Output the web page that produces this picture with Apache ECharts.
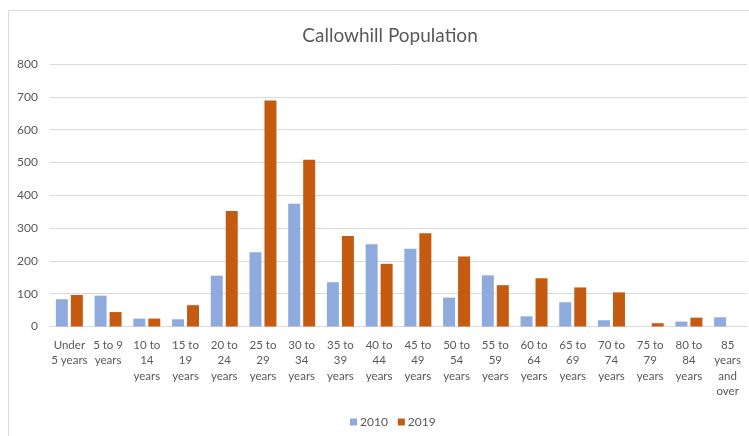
<!DOCTYPE html>
<html>
<head>
<meta charset="utf-8">
<script src="https://cdn.jsdelivr.net/npm/echarts@6/dist/echarts.min.js"></script>
<style>
  html, body { margin: 0; padding: 0; background: #fff; }
  #chart { width: 749px; height: 436px; }
</style>
</head>
<body>
<div id="chart"></div>
<script>
// Age groups (axis labels, pre-wrapped)
const ageGroups = [
  'Under\n5 years', '5 to 9\nyears', '10 to\n14\nyears', '15 to\n19\nyears',
  '20 to\n24\nyears', '25 to\n29\nyears', '30 to\n34\nyears', '35 to\n39\nyears',
  '40 to\n44\nyears', '45 to\n49\nyears', '50 to\n54\nyears', '55 to\n59\nyears',
  '60 to\n64\nyears', '65 to\n69\nyears', '70 to\n74\nyears', '75 to\n79\nyears',
  '80 to\n84\nyears', '85\nyears\nand\nover'
];

// Population counts per age group
const pop2010 = [83, 94, 24, 22, 155, 226, 374, 135, 251, 237, 88, 156, 31, 74, 19, 0, 15, 28];
const pop2019 = [96, 44, 24, 65, 352, 689, 508, 276, 191, 284, 213, 126, 147, 119, 104, 10, 27, 0];

const seriesNames = ['2010', '2019'];
const yTicks = { min: 0, max: 800, interval: 100 };

const textColor = '#595959';
const gridColor = '#d9d9d9';
const font = 'Lato, "Noto Sans", sans-serif';

const chart = echarts.init(document.getElementById('chart'), null, { renderer: 'canvas' });

chart.setOption({
  animation: false,
  backgroundColor: '#fff',
  graphic: [{
    type: 'rect',
    z: -10,
    shape: { x: 8.5, y: 10.5, width: 900, height: 600 },
    style: { fill: 'none', stroke: gridColor, lineWidth: 1 }
  }],
  title: {
    text: 'Callowhill Population',
    left: 385,
    top: 21,
    textAlign: 'center',
    textStyle: { fontFamily: font, fontSize: 19, fontWeight: 'normal', color: textColor }
  },
  legend: {
    data: seriesNames,
    left: 345,
    top: 411,
    itemWidth: 7,
    itemHeight: 7,
    itemGap: 10,
    icon: 'rect',
    textStyle: { fontFamily: font, fontSize: 12, color: textColor, padding: [0, 0, 0, -2] }
  },
  grid: { left: 50, right: 2, top: 64, bottom: 109.5, containLabel: false },
  xAxis: {
    type: 'category',
    data: ageGroups,
    axisLine: { show: true, lineStyle: { color: gridColor, width: 1 } },
    axisTick: { show: false },
    axisLabel: {
      interval: 0,
      margin: 11,
      fontFamily: font,
      fontSize: 11.5,
      lineHeight: 15.5,
      color: textColor,
      align: 'center'
    }
  },
  yAxis: {
    type: 'value',
    min: yTicks.min,
    max: yTicks.max,
    interval: yTicks.interval,
    axisLine: { show: false },
    axisTick: { show: false },
    splitLine: { lineStyle: { color: gridColor, width: 1 } },
    axisLabel: { margin: 12, fontFamily: font, fontSize: 12, color: textColor }
  },
  series: [
    {
      name: seriesNames[0],
      type: 'bar',
      data: pop2010,
      barWidth: 12,
      barGap: '25%',
      itemStyle: { color: '#8faadc' }
    },
    {
      name: seriesNames[1],
      type: 'bar',
      data: pop2019,
      barWidth: 12,
      barGap: '25%',
      itemStyle: { color: '#c55a11' }
    }
  ]
});
</script>
</body>
</html>
